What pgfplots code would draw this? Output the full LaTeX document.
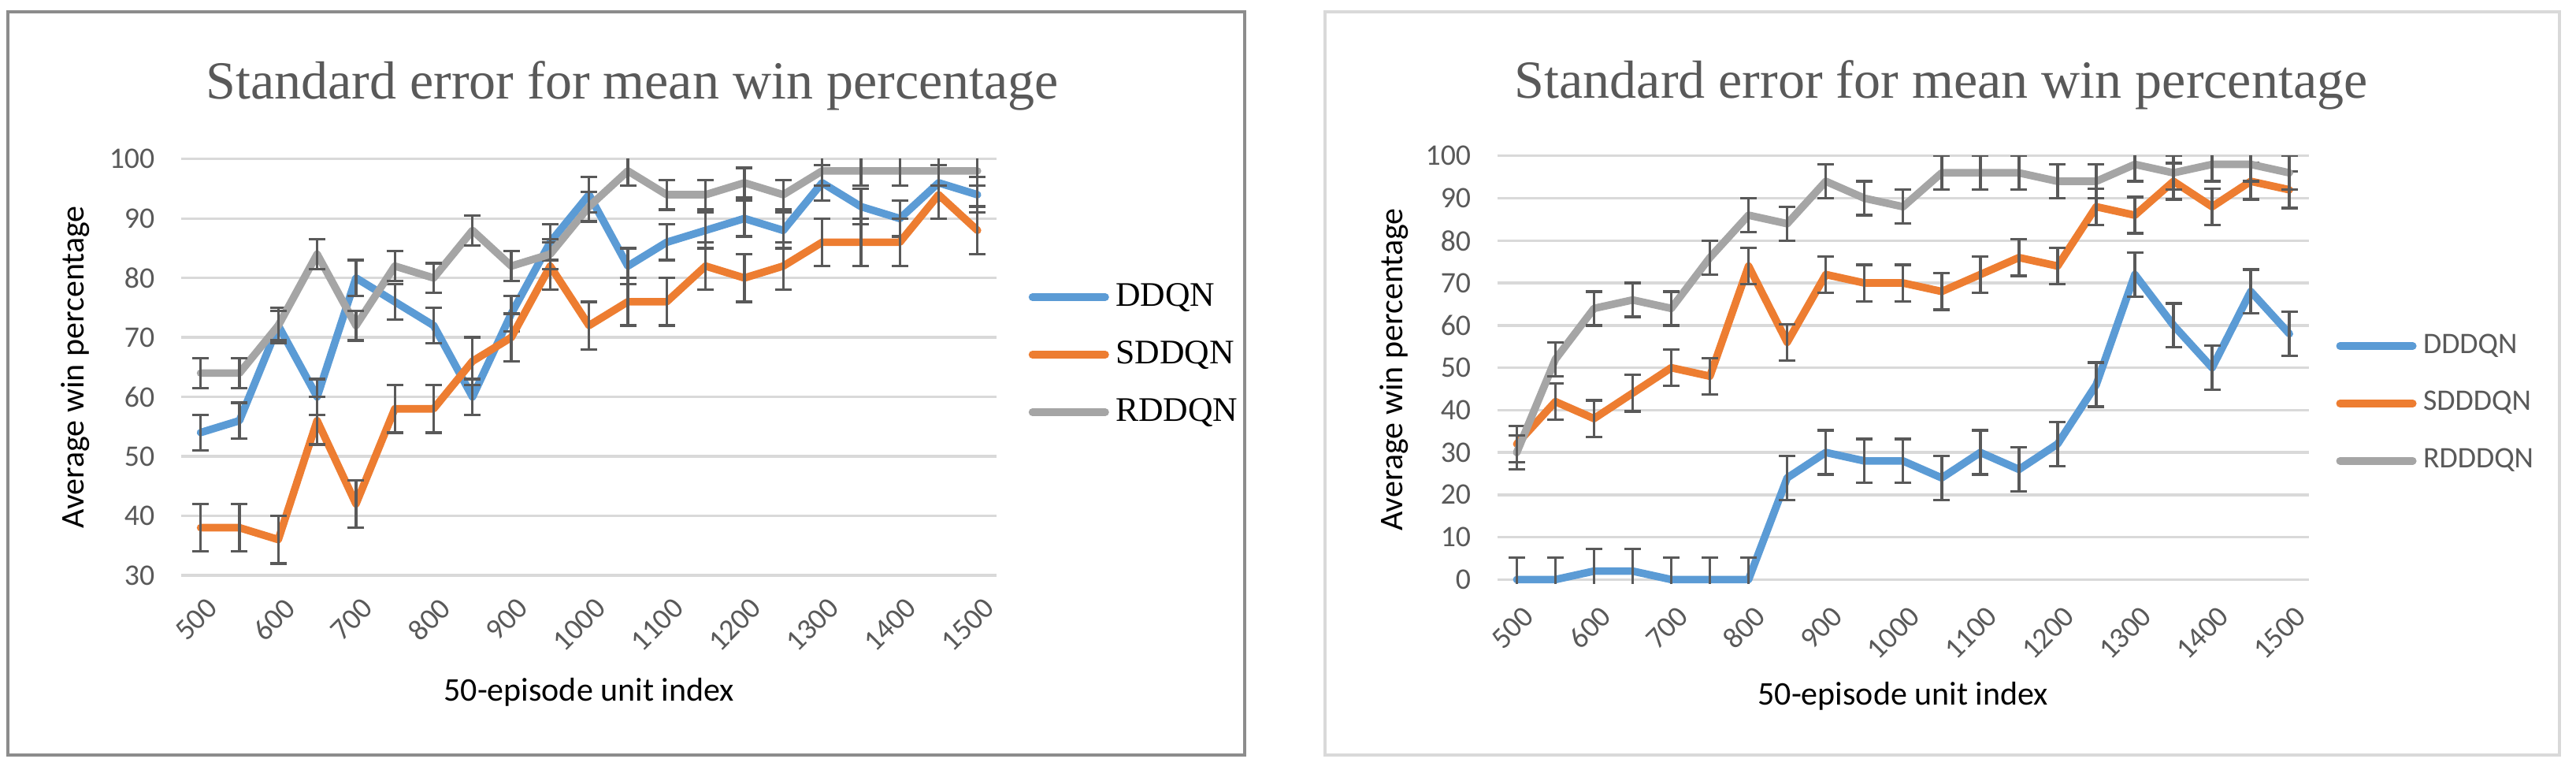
\documentclass[border=0pt]{standalone}
\usepackage{fontspec}
\setmainfont{Carlito}
\newfontfamily\serif{Liberation Serif}
\usepackage{pgfplots}
\usepackage{pgfplotstable}
\pgfplotsset{compat=1.18}

\definecolor{sblue}{HTML}{5B9BD5}
\definecolor{sorange}{HTML}{ED7D31}
\definecolor{sgray}{HTML}{A5A5A5}
\definecolor{txt}{HTML}{595959}
\definecolor{gridc}{HTML}{D9D9D9}

% left chart: value and standard error per 50-episode unit (0 = 500, 20 = 1500)
\pgfplotstableread{
x ddqn sddqn rddqn e1 e2 e3
0 54 38 64 3 4 2.5
1 56 38 64 3 4 2.5
2 72 36 72 3 4 2.5
3 60 56 84 3 4 2.5
4 80 42 72 3 4 2.5
5 76 58 82 3 4 2.5
6 72 58 80 3 4 2.5
7 60 66 88 3 4 2.5
8 74 70 82 3 4 2.5
9 86 82 84 3 4 2.5
10 94 72 92 3 4 2.5
11 82 76 98 3 4 2.5
12 86 76 94 3 4 2.5
13 88 82 94 3 4 2.5
14 90 80 96 3 4 2.5
15 88 82 94 3 4 2.5
16 96 86 98 3 4 2.5
17 92 86 98 3 4 2.5
18 90 86 98 3 4 2.5
19 96 94 98 3 4 2.5
20 94 88 98 3 4 2.5
}\lefttab

% right chart
\pgfplotstableread{
x dddqn sdddqn rdddqn e1 e2 e3
0 0 32 30 5.2 4.3 4
1 0 42 52 5.2 4.3 4
2 2 38 64 5.2 4.3 4
3 2 44 66 5.2 4.3 4
4 0 50 64 5.2 4.3 4
5 0 48 76 5.2 4.3 4
6 0 74 86 5.2 4.3 4
7 24 56 84 5.2 4.3 4
8 30 72 94 5.2 4.3 4
9 28 70 90 5.2 4.3 4
10 28 70 88 5.2 4.3 4
11 24 68 96 5.2 4.3 4
12 30 72 96 5.2 4.3 4
13 26 76 96 5.2 4.3 4
14 32 74 94 5.2 4.3 4
15 46 88 94 5.2 4.3 4
16 72 86 98 5.2 4.3 4
17 60 94 96 5.2 4.3 4
18 50 88 98 5.2 4.3 4
19 68 94 98 5.2 4.3 4
20 58 92 96 5.2 4.3 4
}\righttab

\pgfplotsset{
  panel/.style={
    scale only axis,
    xmin=-0.5, xmax=20.5,
    xtick={0,2,...,20},
    xticklabels={500,600,700,800,900,1000,1100,1200,1300,1400,1500},
    axis line style={draw=none},
    tick style={draw=none},
    ymajorgrids,
    grid style={draw=gridc, line width=0.8pt},
    tick label style={font=\fontsize{9}{10}\selectfont, text=txt},
    xticklabel style={rotate=45, anchor=east, yshift=-8.5pt},
    yticklabel style={xshift=-4.5pt},
    label style={font=\fontsize{10}{12}\selectfont, text=txt},
    /pgf/number format/assume math mode=true,
    legend cell align=left,
    legend image code/.code={\draw[#1, line width=2.3pt, line cap=round] (0pt,0pt) -- (22pt,0pt);},
    every axis plot/.append style={line width=2.3pt, line join=round, line cap=round},
    error bars/y dir=both,
    error bars/y explicit,
    error bars/error bar style={draw=txt, line width=0.8pt, line cap=butt},
    error bars/error mark options={draw=txt, line width=0.8pt, mark size=2.5pt, rotate=90},
  },
}

\begin{document}
\begin{tikzpicture}
\path[use as bounding box] (0pt,0pt) rectangle (778.6pt,232.4pt);
\draw[draw=black!45, line width=0.9pt] (2.4pt,4.3pt) rectangle (376.2pt,228.8pt);
\draw[draw=gridc, line width=1pt] (400.5pt,4.3pt) rectangle (773.6pt,228.8pt);

\begin{axis}[panel,
  at={(54.76pt,58.6pt)}, anchor=south west,
  width=246.55pt, height=125.75pt,
  ymin=30, ymax=100, ytick={30,40,...,100},
  title={Standard error for mean win percentage},
  every axis title/.style={at={(axis description cs:0.553,1.176)}, anchor=center,
    font=\serif\fontsize{16.2}{18}\selectfont, text=txt},
  xlabel={50-episode unit index},
  every axis x label/.style={at={(axis description cs:0.5,-0.28)}, anchor=center},
  ylabel={Average win percentage},
  every axis y label/.style={at={(axis description cs:-0.1298,0.5)}, rotate=90, anchor=center},
  legend style={at={(axis description cs:1,0.53)}, anchor=west, xshift=9.4pt,
    draw=none, fill=none, inner sep=0pt, row sep=5pt,
    nodes={font=\serif\fontsize{10.4}{12}\selectfont, text=black}},
]
\addplot[sblue] table[x=x, y=ddqn, y error=e1] {\lefttab};
\addplot[sorange] table[x=x, y=sddqn, y error=e2] {\lefttab};
\addplot[sgray] table[x=x, y=rddqn, y error=e3] {\lefttab};
\legend{{\serif DDQN},{\serif SDDQN},{\serif RDDQN}}
\end{axis}

\begin{axis}[panel,
  at={(452.6pt,56.15pt)}, anchor=south west,
  width=245.2pt, height=129.15pt,
  ymin=-0.9, ymax=100, ytick={0,10,...,100},
  title={Standard error for mean win percentage},
  every axis title/.style={at={(axis description cs:0.547,1.165)}, anchor=center,
    font=\serif\fontsize{16.2}{18}\selectfont, text=txt},
  xlabel={50-episode unit index},
  every axis x label/.style={at={(axis description cs:0.5,-0.263)}, anchor=center},
  ylabel={Average win percentage},
  every axis y label/.style={at={(axis description cs:-0.127,0.5)}, rotate=90, anchor=center},
  legend style={at={(axis description cs:1,0.421)}, anchor=west, xshift=8.1pt,
    draw=none, fill=none, inner sep=0pt, row sep=6pt,
    nodes={font=\fontsize{9}{11}\selectfont, text=txt}},
]
\addplot[sblue] table[x=x, y=dddqn, y error=e1] {\righttab};
\addplot[sorange] table[x=x, y=sdddqn, y error=e2] {\righttab};
\addplot[sgray] table[x=x, y=rdddqn, y error=e3] {\righttab};
\legend{DDDQN,SDDDQN,RDDDQN}
\end{axis}
\end{tikzpicture}
\end{document}
